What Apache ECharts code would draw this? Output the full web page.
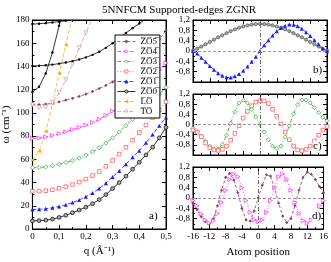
<!DOCTYPE html>
<html><head><meta charset="utf-8">
<script src="https://cdn.jsdelivr.net/npm/echarts@6/dist/echarts.min.js"></script>
<style>html,body{margin:0;padding:0;background:#fff}#c{width:331px;height:262px}</style>
</head><body><div id="c"></div>
<script>
// ---------- panel a : dispersion ----------
const qVals = [0,0.025,0.05,0.075,0.1,0.125,0.15,0.175,0.2,0.225,0.25,0.275,0.3,0.325,0.35,0.375,0.4,0.425,0.45,0.475,0.5];
const zo0 = [7,7.2,7.6,8.5,10,11.8,14,16.3,18.8,21.8,25.3,29.6,34.8,40,45.5,51.5,57.5,63.8,70.5,78.5,87.5];
const zo1 = [16.8,17,17.5,18.3,19.4,20.9,22.8,25,27.8,31,34.8,39.5,44.8,50,55.8,61.8,67.5,74.2,81.3,89,96];
const zo2 = [32.5,32.6,33,33.8,35,36.5,38.3,40.4,43,46,49.5,54,59,64.5,70.3,76.5,83,89.5,96,102.5,109.5];
const zo3 = [52.8,53,53.5,54.5,55.8,57.3,59,61,63.5,66.5,70,74,78.5,83.5,89,94.5,100,105.3,110.5,116,122];
const zo4 = [78,78.4,79.3,80.6,82.1,83.8,85.6,87.4,89.5,91.8,94.5,97.8,101.5,105.5,110,115,120,125.5,131,137,143];
const zo5 = [107.5,107.2,107.5,108.3,109.5,111,112.5,114.2,116.2,118.5,121,123.7,126.7,130.5,135,140,145,150.5,156.5,163.5,171];
const qLO = [0,0.025,0.05,0.075,0.1,0.125,0.15];
const lo  = [59.5,67,84,108,134,158.5,183];
const qTO = [0,0.025,0.05,0.075,0.1,0.125,0.15,0.175,0.2,0.225];
const to  = [107,104.5,105,109,117.5,128.5,142,156,169,182];
const qB1 = [0,0.025,0.05,0.075,0.1,0.125];
const blk1 = [118,122.5,134,152,175,200];
const qB2 = [0,0.025,0.05,0.075,0.1,0.125,0.15,0.175,0.2,0.225,0.25,0.275,0.3,0.325,0.35,0.375,0.4,0.425];
const blk2 = [140.5,140.6,141,141.6,142.4,143.4,144.6,146,147.8,150,152.7,156,160,164.5,168.8,173,177,181];
const qB3 = [0,0.025,0.05,0.075,0.1,0.125,0.15];
const blk3 = [176.5,176.8,177.3,177.9,178.6,179.4,180.5];

// ---------- panels b, c, d : eigenvectors ----------
const atomX = [-16,-15,-14,-13,-12,-11,-10,-9,-8,-7,-6,-5,-4,-3,-2,-1,0,1,2,3,4,5,6,7,8,9,10,11,12,13,14,15,16];
const bZO0 = [0.02,0.09,0.17,0.26,0.35,0.44,0.53,0.61,0.69,0.77,0.84,0.90,0.95,0.99,1.02,1.04,1.05,1.04,1.02,0.99,0.95,0.90,0.84,0.77,0.69,0.61,0.53,0.44,0.35,0.26,0.17,0.09,0.02];
const bZO1 = [0.0,-0.10,-0.26,-0.42,-0.58,-0.73,-0.86,-0.96,-1.02,-1.03,-0.98,-0.89,-0.76,-0.60,-0.42,-0.22,0,0.22,0.42,0.60,0.76,0.89,0.98,1.03,1.02,0.96,0.86,0.73,0.58,0.42,0.26,0.10,0.0];
const cZO3 = [-0.15,-0.28,-0.46,-0.66,-0.85,-0.97,-0.96,-0.78,-0.42,0.05,0.5,0.85,0.95,0.85,0.6,0.3,0,-0.3,-0.6,-0.85,-0.95,-0.85,-0.5,-0.05,0.42,0.78,0.96,0.97,0.85,0.66,0.46,0.28,0.15];
const cZO2 = [-0.22,-0.30,-0.48,-0.72,-0.92,-1.00,-1.02,-0.98,-0.85,-0.62,-0.35,-0.05,0.25,0.52,0.74,0.88,0.94,0.93,0.82,0.60,0.32,0.02,-0.30,-0.60,-0.85,-1.00,-1.03,-0.98,-0.85,-0.65,-0.42,-0.22,-0.08];
const dZO5 = [-0.2,-0.45,-0.72,-0.92,-1.0,-0.8,-0.3,0.3,0.8,0.95,0.7,0.2,-0.4,-0.85,-0.9,-0.5,0,0.5,0.9,0.85,0.4,-0.2,-0.7,-0.95,-0.8,-0.3,0.3,0.8,1.0,0.92,0.72,0.45,0.2];
const dZO4 = [-0.1,-0.3,-0.62,-0.85,-0.97,-0.88,-0.6,-0.18,0.3,0.72,0.93,0.82,0.4,-0.1,-0.55,-0.85,-0.92,-0.85,-0.55,-0.1,0.4,0.82,0.93,0.72,0.3,-0.18,-0.6,-0.88,-0.97,-0.85,-0.62,-0.3,-0.1];

const OL = '\u0305';
const ov = s => s.split('').map(c => c + OL).join('');
const names = ['ZO5','ZO4','ZO3','ZO2','ZO1','ZO0','LO','TO'].map(ov);

const FONT = 'Liberation Serif';
const C = {zo5:'#8e3a66', zo4:'#ff22ff', zo3:'#2aa02a', zo2:'#ff4a4a', zo1:'#1a1aff', zo0:'#000000', lo:'#ffaa22', to:'#c9a09c'};

const pts = (xs, ys) => xs.map((x, i) => [x, ys[i]]);
const comma = v => { const s = Number(v.toFixed(2)); return s === 0 ? '0' : String(s).replace('.', ','); };

const grids = [
  {left:32, top:20, width:134, height:209},
  {left:193, top:20, width:134, height:62},
  {left:193, top:94, width:134, height:61},
  {left:193, top:167, width:134, height:62}
].map(g => Object.assign({show:true, borderColor:'#000', borderWidth:1, backgroundColor:'transparent'}, g));

const tick = {inside:true, length:4, lineStyle:{color:'#000', width:1}};
const minor = {show:true, splitNumber:2, length:2, lineStyle:{color:'#000', width:1}};
const lbl = {color:'#000', fontFamily:FONT, fontSize:9, margin:3};
const aLine = {show:true, onZero:false, lineStyle:{color:'#000', width:1}};

function xAx(gi, min, max, interval, showLabel, extra) {
  const base = {type:'value', gridIndex:gi, min, max, interval,
    axisLine:aLine, axisTick:tick, minorTick:minor,
    splitLine:{show:false}, minorSplitLine:{show:false},
    axisLabel:Object.assign({show:showLabel, formatter:comma}, lbl)};
  return [Object.assign(base, extra || {}),
    {type:'value', gridIndex:gi, min, max, interval, position:'top',
     axisLine:aLine, axisTick:tick, minorTick:minor,
     splitLine:{show:false}, axisLabel:{show:false}}];
}
function yAx(gi, min, max, interval, fmt, extra) {
  const base = {type:'value', gridIndex:gi, min, max, interval,
    axisLine:aLine, axisTick:tick, minorTick:minor,
    splitLine:{show:false}, minorSplitLine:{show:false},
    axisLabel:Object.assign({formatter:fmt}, lbl)};
  return [Object.assign(base, extra || {}),
    {type:'value', gridIndex:gi, min, max, interval, position:'right',
     axisLine:aLine, axisTick:tick, minorTick:minor,
     splitLine:{show:false}, axisLabel:{show:false}}];
}
const eigFmt = v => (v < -1.1 ? '' : comma(v));

const xAxes = [
  ...xAx(0, 0, 0.5, 0.1, true, {name:'q (Å\u207B\u00B9)', nameLocation:'middle', nameGap:15,
      nameTextStyle:{fontFamily:FONT, fontSize:11, color:'#000'}}),
  ...xAx(1, -16, 16, 4, false),
  ...xAx(2, -16, 16, 4, false),
  ...xAx(3, -16, 16, 4, true, {name:'Atom position', nameLocation:'middle', nameGap:18,
      nameTextStyle:{fontFamily:FONT, fontSize:11, color:'#000'}, axisLabel:Object.assign({show:true, formatter:v=>String(v)}, lbl)})
];
const yAxes = [
  ...yAx(0, 0, 180, 20, v => String(v), {name:'ω (cm\u207B\u00B9)', nameLocation:'middle', nameGap:19, nameRotate:90,
      nameTextStyle:{fontFamily:FONT, fontSize:11, color:'#000'}}),
  ...yAx(1, -1.2, 1.2, 0.4, eigFmt),
  ...yAx(2, -1.2, 1.2, 0.4, eigFmt),
  ...yAx(3, -1.2, 1.2, 0.4, eigFmt)
];

// hollow markers: white fill + thin coloured border
function ser(name, gi, data, color, symbol, opts) {
  opts = opts || {};
  const hollow = !!opts.hollow;
  return {
    type:'line', name, xAxisIndex:gi*2, yAxisIndex:gi*2, data,
    symbol, symbolSize:opts.size || 3.5, symbolRotate:opts.rot || 0, showSymbol:true,
    lineStyle:{color, width:opts.lw || 0.8, type:opts.dash || 'solid'},
    itemStyle:{color:hollow ? '#fff' : (opts.fill || color), borderColor:opts.border || color,
      borderWidth:opts.bw == null ? 0.7 : opts.bw},
    emphasis:{disabled:true}, animation:false, clip:true, z:opts.z || 2,
    markLine:opts.markLine
  };
}
const refLines = {
  silent:true, symbol:'none', label:{show:false}, animation:false,
  data:[
    {yAxis:0, lineStyle:{color:'#999', width:1, type:[3,2]}},
    {xAxis:0, lineStyle:{color:'#666', width:1, type:[4,2,1,2]}}
  ]
};

const series = [
  ser(names[0], 0, pts(qVals, zo5), C.zo5, 'diamond', {dash:[3,2], size:3.2, bw:0}),
  ser(names[1], 0, pts(qVals, zo4), C.zo4, 'triangle', {dash:[4,2], rot:-90, size:4, hollow:true}),
  ser(names[2], 0, pts(qVals, zo3), C.zo3, 'diamond', {dash:[4,2,1,2], size:4.2, hollow:true}),
  ser(names[3], 0, pts(qVals, zo2), C.zo2, 'rect', {dash:[1,2], size:3.6, hollow:true}),
  ser(names[4], 0, pts(qVals, zo1), C.zo1, 'triangle', {dash:[4,2], size:4, bw:0}),
  ser(names[5], 0, pts(qVals, zo0), C.zo0, 'circle', {fill:'#aaa', size:3.8}),
  ser(names[6], 0, pts(qLO, lo), C.lo, 'triangle', {dash:[4,2], rot:90, size:4, bw:0}),
  ser(names[7], 0, pts(qTO, to), C.to, 'triangle', {dash:[4,2], rot:180, size:4, hollow:true}),
  ser('branch1', 0, pts(qB1, blk1), '#000', 'circle', {size:2.4, bw:0}),
  ser('branch2', 0, pts(qB2, blk2), '#000', 'circle', {size:2.4, bw:0}),
  ser('branch3', 0, pts(qB3, blk3), '#000', 'circle', {size:2.4, bw:0}),
  // b
  ser('b-ZO0', 1, pts(atomX, bZO0), '#555', 'circle', {fill:'#aaa', size:3.2, markLine:refLines}),
  ser('b-ZO1', 1, pts(atomX, bZO1), C.zo1, 'triangle', {dash:[4,2], size:4, bw:0}),
  // c
  ser('c-ZO3', 2, pts(atomX, cZO3), C.zo3, 'diamond', {dash:[4,2,1,2], size:4, hollow:true, markLine:refLines}),
  ser('c-ZO2', 2, pts(atomX, cZO2), C.zo2, 'rect', {dash:[1,2], size:3.6, hollow:true}),
  // d
  ser('d-ZO5', 3, pts(atomX, dZO5), C.zo5, 'diamond', {dash:[3,2], size:3.2, bw:0, markLine:refLines}),
  ser('d-ZO4', 3, pts(atomX, dZO4), C.zo4, 'triangle', {dash:[1,2], rot:-90, size:4, hollow:true})
];

const txt = (t, l, tp) => ({type:'text', left:l, top:tp, z:100,
  style:{text:t, fontFamily:FONT, fontSize:11, fill:'#000', backgroundColor:'#fff'}});

const chart = echarts.init(document.getElementById('c'), null, {renderer:'canvas'});
chart.setOption({
  animation:false,
  backgroundColor:'#fff',
  title:{text:'5NNFCM Supported-edges ZGNR', left:97, top:0,
    textStyle:{fontFamily:FONT, fontSize:11, fontWeight:'normal', color:'#000'}},
  grid:grids,
  xAxis:xAxes,
  yAxis:yAxes,
  legend:{
    data:names, orient:'vertical', left:115, top:35,
    itemWidth:18, itemHeight:4, itemGap:1,
    padding:[2,3,2,2],
    backgroundColor:'#fff', borderColor:'#000', borderWidth:1,
    itemStyle:{borderWidth:0.7},
    lineStyle:{width:0.8},
    textStyle:{fontFamily:FONT, fontSize:9, color:'#000', lineHeight:9},
    selectedMode:false
  },
  graphic:[txt('a)', 149, 211), txt('b)', 313, 65), txt('c)', 313, 141), txt('d)', 312, 211)],
  series
});
</script>
</body></html>
